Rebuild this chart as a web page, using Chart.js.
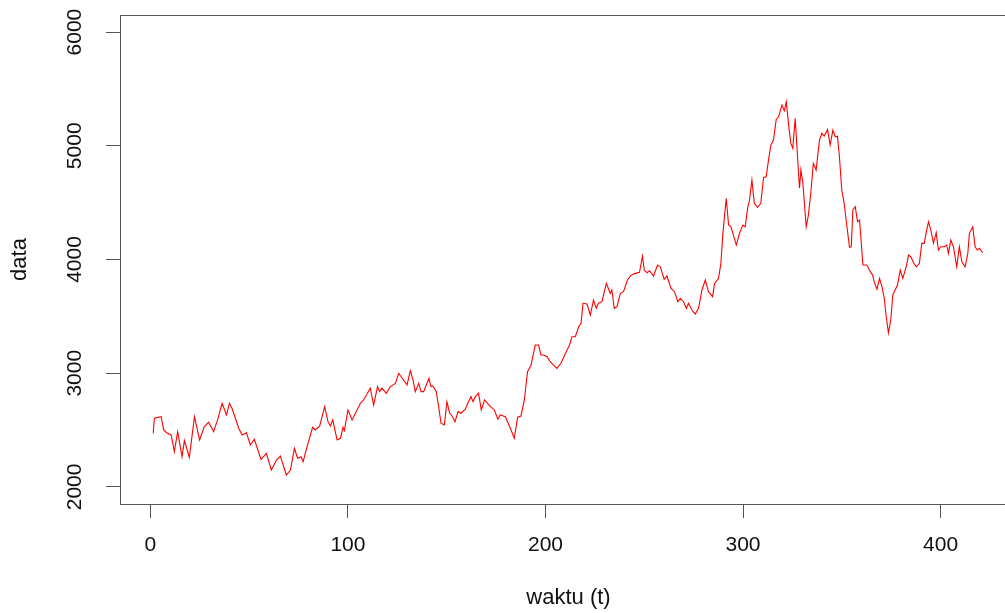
<!DOCTYPE html>
<html>
<head>
<meta charset="utf-8">
<script src="https://cdn.jsdelivr.net/npm/chart.js@4.4.1/dist/chart.umd.min.js"></script>
<style>
  html, body { margin: 0; padding: 0; background: #fff; overflow: hidden; }
  #wrap { width: 1017px; height: 613px; }
</style>
</head>
<body>
<div id="wrap"><canvas id="grafik" width="1017" height="613"></canvas></div>
<script>
// Plot deret waktu: data vs waktu (t)

// waktu (t) dan nilai data
const waktu = [
  1.4, 2, 5.4, 6.7, 8.4, 10.5, 12.1, 13.8, 16, 17.2, 19.7, 22.3, 24.9, 27.3, 29.5,
  32, 34, 36.3, 38.5, 40, 41.3, 44.7, 46.4, 48.6, 50.6, 52.6, 56, 58.7, 61.2, 63.8,
  65.8, 68.8, 70.9, 72.9, 74.5, 76.3, 77.3, 79.3, 82.1, 83.5, 85.7, 88.2, 89.9, 91.1,
  92.3, 94.5, 96.2, 97.5, 98.2, 100, 102.1, 106.3, 107.9, 111.3, 113, 115, 116, 117.2,
  119.4, 121.5, 124, 125.7, 127.9, 129.9, 131.6, 132.9, 134.1, 135.8, 137, 138.3, 141,
  142, 143, 144.7, 145.9, 147.1, 148.8, 150.1, 151.5, 152.7, 154.2, 155.7, 157.2, 159.4,
  160.8, 162.3, 163.3, 164.5, 166.1, 167.5, 169.2, 170.9, 172.6, 174.1, 175.9, 177.1,
  179.7, 182.2, 184.2, 185.9, 187.6, 189.3, 190.9, 192.7, 194.8, 196.5, 197.7, 199,
  200.8, 202.4, 204.1, 205.8, 207.8, 210.8, 212.2, 213.4, 215.1, 216.8, 218, 219, 221,
  222.7, 224.3, 225.7, 226.8, 228.6, 230.8, 232.8, 233.6, 234.8, 236.2, 237.9, 239.5,
  241.5, 243.3, 245.4, 247.6, 249.1, 250, 251.4, 252.7, 254.7, 256.7, 258.1, 260.1,
  261.5, 263.5, 265.3, 267, 268.2, 269.9, 271.3, 272.4, 274.1, 275.8, 277.5, 279.2,
  280.9, 282.5, 284.6, 285.6, 287.6, 288.8, 289.8, 291.5, 292.7, 293.9, 296.6, 298.2,
  299.9, 301.1, 302.3, 303.3, 304.5, 305.7, 307.3, 309, 310.4, 311.7, 312.9, 314.1,
  315.4, 316.8, 318, 319.7, 320.9, 321.9, 323, 324.2, 325.2, 326.4, 327.3, 328.1, 328.6,
  329.3, 330.3, 332, 333.1, 334.3, 335.6, 337, 338.7, 339.9, 341.1, 342.8, 344.1, 345.5,
  346.7, 347.8, 348.8, 350, 351.2, 352.2, 353.9, 354.8, 355.6, 356.8, 358, 359, 360.7,
  362.7, 364.4, 365.6, 366.4, 367.8, 369.1, 370.3, 371.5, 372.5, 373.6, 374.8, 375.8,
  377, 378.2, 379.6, 380.9, 382.6, 383.8, 385, 386.3, 387.7, 389.3, 390.5, 391.7, 393,
  393.9, 395.1, 396.4, 397.8, 398.9, 400.1, 401.8, 403.1, 404, 405.2, 406.5, 408.2,
  409.5, 410.8, 412.4, 413.8, 414.6, 416.3, 417.5, 418.6, 419.7, 421.3
];
const nilai = [
  2472, 2604, 2618, 2501, 2475, 2457, 2310, 2486, 2266, 2407, 2261, 2618, 2413, 2530, 2569,
  2486, 2589, 2736, 2633, 2736, 2692, 2516, 2457, 2477, 2369, 2419, 2243, 2296, 2149, 2237,
  2272, 2105, 2149, 2340, 2252, 2266, 2222, 2354, 2524, 2501, 2536, 2706, 2574, 2536,
  2589, 2413, 2428, 2524, 2495, 2677, 2589, 2736, 2765, 2868, 2721, 2882, 2838, 2868,
  2824, 2882, 2911, 2999, 2947, 2897, 3022, 2941, 2838, 2911, 2838, 2838, 2955,
  2882, 2888, 2838, 2706, 2560, 2545, 2750, 2648, 2624, 2574, 2662, 2648, 2683,
  2741, 2794, 2750, 2794, 2824, 2677, 2765, 2730, 2700, 2677, 2595, 2633,
  2618, 2516, 2428, 2613, 2624, 2765, 3013, 3072, 3248, 3248, 3160, 3160,
  3145, 3101, 3072, 3043, 3087, 3200, 3248, 3321, 3321, 3409, 3439, 3615, 3609,
  3512, 3644, 3571, 3615, 3629, 3790, 3703, 3732, 3571, 3585, 3703, 3717,
  3820, 3863, 3878, 3887, 4030, 3907, 3884, 3901, 3855, 3951, 3936, 3826,
  3855, 3747, 3717, 3629, 3659, 3629, 3571, 3615, 3556, 3521, 3571, 3732,
  3820, 3717, 3673, 3790, 3834, 3966, 4230, 4538, 4303, 4288, 4127, 4230,
  4303, 4288, 4450, 4523, 4699, 4494, 4458, 4494, 4722, 4728, 4874, 5006,
  5050, 5232, 5255, 5358, 5308, 5387, 5197, 5021, 4977, 5241, 4991, 4757, 4626,
  4787, 4670, 4288, 4391, 4582, 4845, 4787, 5050, 5109, 5085, 5144, 5006, 5138,
  5079, 5085, 4903, 4611, 4494, 4347, 4107, 4112, 4435, 4464, 4332, 4347, 3951,
  3951, 3893, 3863, 3805, 3738, 3834, 3761, 3659, 3497, 3356, 3468, 3688,
  3732, 3776, 3907, 3834, 3936, 4039, 4024, 3972, 3936, 3966, 4142, 4142, 4259,
  4332, 4259, 4142, 4236, 4083, 4112, 4112, 4127, 4054, 4171, 4112, 3936,
  4112, 3980, 3936, 4054, 4230, 4288, 4112, 4083, 4098, 4059
];

const xTicks = [0, 100, 200, 300, 400];
const yTicks = [2000, 3000, 4000, 5000, 6000];

const fontFam = '"Liberation Sans", Arial, Helvetica, sans-serif';
const garis = '#555';

// kotak di sekeliling area plot (seperti box() di R)
const kotak = {
  id: 'kotak',
  afterDraw(chart) {
    const a = chart.chartArea;
    const ctx = chart.ctx;
    ctx.save();
    ctx.strokeStyle = garis;
    ctx.lineWidth = 1;
    ctx.strokeRect(a.left + 0.5, a.top + 0.5, a.right - a.left - 1, a.bottom - a.top);
    ctx.restore();
  }
};

let chart1;
function drawChart() {
  const ctx = document.getElementById('grafik').getContext('2d');
  if (chart1) {
    chart1.destroy();
  }
  const points = waktu.map(function(t, i) {
    return { x: t, y: nilai[i] };
  });

  chart1 = new Chart(ctx, {
    type: 'line',
    data: {
      datasets: [{
        data: points,
        borderColor: '#ff0000',
        borderWidth: 1.1,
        pointRadius: 0,
        tension: 0,
        fill: false
      }]
    },
    options: {
      responsive: false,
      animation: false,
      layout: { padding: { top: 15, right: 0, bottom: 0, left: 0 } },
      plugins: {
        legend: { display: false },
        tooltip: { enabled: false }
      },
      scales: {
        x: {
          type: 'linear',
          min: -15.4,
          max: 438.7,
          afterFit: function(scale) {
            scale.height = 109;
            scale.paddingLeft = 0;
            scale.paddingRight = 0;
          },
          afterBuildTicks: function(scale) {
            scale.ticks = xTicks.map(function(v) { return { value: v }; });
          },
          grid: { drawOnChartArea: false, drawTicks: true, tickLength: 14, color: garis },
          border: { display: false },
          ticks: {
            color: '#111',
            padding: 15,
            maxRotation: 0,
            font: { family: fontFam, size: 21 },
            callback: function(v) { return String(v); }
          },
          title: {
            display: true,
            text: 'waktu (t)',
            color: '#111',
            padding: { top: 0, bottom: 2 },
            font: { family: fontFam, size: 22 }
          }
        },
        y: {
          type: 'linear',
          min: 1850,
          max: 6150,
          afterFit: function(scale) {
            scale.width = 120;
            scale.paddingTop = 0;
            scale.paddingBottom = 0;
          },
          afterBuildTicks: function(scale) {
            scale.ticks = yTicks.map(function(v) { return { value: v }; });
          },
          grid: { drawOnChartArea: false, drawTicks: true, tickLength: 14, color: garis },
          border: { display: false },
          ticks: {
            color: '#111',
            padding: 7,
            minRotation: 90,
            maxRotation: 90,
            crossAlign: 'center',
            font: { family: fontFam, size: 21 },
            callback: function(v) { return String(v); }
          },
          title: {
            display: true,
            text: 'data',
            color: '#111',
            padding: { top: 7, bottom: 0 },
            font: { family: fontFam, size: 22 }
          }
        }
      }
    },
    plugins: [kotak]
  });
}

drawChart();
</script>
</body>
</html>
